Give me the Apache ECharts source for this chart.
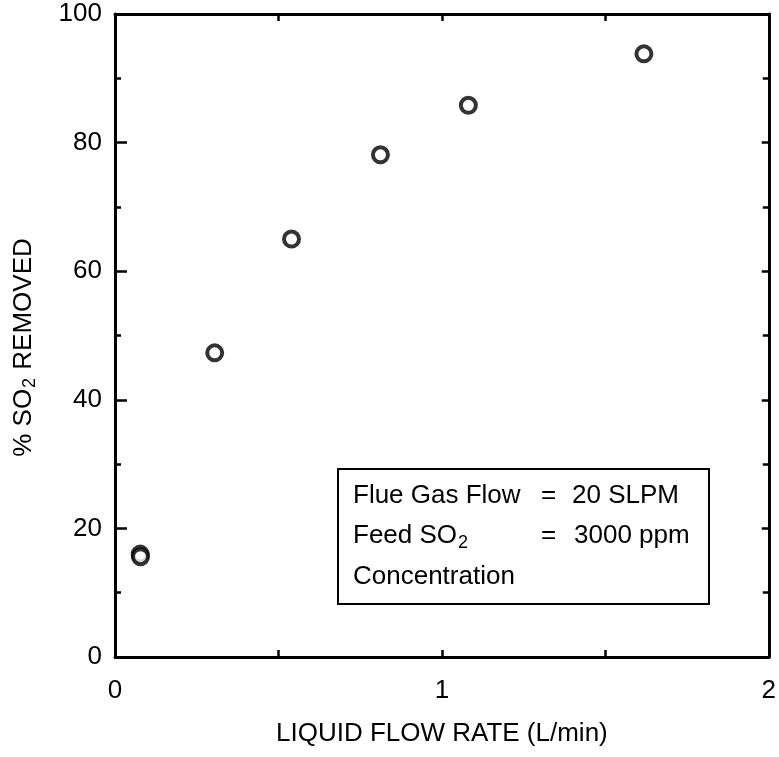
<!DOCTYPE html>
<html>
<head>
<meta charset="utf-8">
<script src="https://cdn.jsdelivr.net/npm/echarts@6/dist/echarts.min.js"></script>
<style>
  html, body { margin: 0; padding: 0; background: #fff; }
  #chart { width: 779px; height: 757px; }
</style>
</head>
<body>
<div id="chart"></div>
<script>
// liquid flow rate (L/min) vs % SO2 removed
var flowRate = [0.077, 0.078, 0.305, 0.54, 0.812, 1.081, 1.618];
var removed = [16.0, 15.6, 47.3, 65.0, 78.1, 85.8, 93.8];
var xTicks = [0, 1, 2];
var yTicks = [0, 20, 40, 60, 80, 100];

var font = 'Liberation Sans, Arial, sans-serif';

var chart = echarts.init(document.getElementById('chart'));

var points = flowRate.map(function (x, i) { return [x, removed[i]]; });

function baseAxis(tickLen) {
  return {
    axisLine: { show: true, onZero: false, lineStyle: { color: '#000', width: 3 } },
    axisTick: { show: true, inside: true, length: tickLen, lineStyle: { color: '#000', width: 2.5 } },
    splitLine: { show: false }
  };
}

var xBottom = Object.assign(baseAxis(7), {
  type: 'value', position: 'bottom', min: 0, max: 2, interval: 0.5,
  axisLabel: {
    color: '#000', fontSize: 26, fontFamily: font, margin: 21,
    formatter: function (v) { return xTicks.indexOf(v) >= 0 ? String(v) : ''; }
  },
  name: 'LIQUID FLOW RATE (L/min)',
  nameLocation: 'middle', nameGap: 64,
  nameTextStyle: { color: '#000', fontSize: 26, fontFamily: font }
});
var xTop = Object.assign(baseAxis(7), {
  type: 'value', position: 'top', min: 0, max: 2, interval: 0.5,
  axisLabel: { show: false }
});

var yLeft = Object.assign(baseAxis(12), {
  type: 'value', position: 'left', min: 0, max: 100, interval: 20,
  minorTick: { show: true, splitNumber: 2, length: 6, lineStyle: { color: '#000', width: 2.5 } },
  axisLabel: {
    color: '#000', fontSize: 26, fontFamily: font, margin: 13,
    formatter: function (v) { return yTicks.indexOf(v) >= 0 ? String(v) : ''; }
  },
  name: '% SO{sub|2} REMOVED',
  nameLocation: 'middle', nameGap: 76,
  nameTextStyle: {
    color: '#000', fontSize: 26, fontFamily: font, padding: [0, 24, 0, 0],
    rich: { sub: { fontSize: 18, fontFamily: font, color: '#000', padding: [12, 1, 0, 1] } }
  }
});
var yRight = Object.assign(baseAxis(7), {
  type: 'value', position: 'right', min: 0, max: 100, interval: 20,
  minorTick: { show: true, splitNumber: 2, length: 6, lineStyle: { color: '#000', width: 2.5 } },
  axisLabel: { show: false }
});

var boxFont = '26px ' + font;

var option = {
  backgroundColor: '#fff',
  animation: false,
  grid: { left: 115, right: 9, top: 14, bottom: 100, containLabel: false },
  xAxis: [xBottom, xTop],
  yAxis: [yLeft, yRight],
  graphic: [
    {
      type: 'rect', left: 337, top: 468,
      shape: { width: 371, height: 135 },
      style: { fill: '#fff', stroke: '#000', lineWidth: 2 }
    },
    {
      type: 'text', left: 353, top: 483,
      style: { text: 'Flue Gas Flow', fill: '#000', font: boxFont }
    },
    {
      type: 'text', left: 541, top: 483,
      style: { text: '=', fill: '#000', font: boxFont }
    },
    {
      type: 'text', left: 572, top: 483,
      style: { text: '20 SLPM', fill: '#000', font: boxFont }
    },
    {
      type: 'text', left: 353, top: 523,
      style: {
        text: 'Feed SO{sub|2}', fill: '#000', font: boxFont,
        rich: { sub: { fontSize: 18, fontFamily: font, fill: '#000', padding: [14, 0, 0, 1] } }
      }
    },
    {
      type: 'text', left: 541, top: 523,
      style: { text: '=', fill: '#000', font: boxFont }
    },
    {
      type: 'text', left: 574, top: 523,
      style: { text: '3000 ppm', fill: '#000', font: boxFont }
    },
    {
      type: 'text', left: 353, top: 564,
      style: { text: 'Concentration', fill: '#000', font: boxFont }
    }
  ],
  series: [
    {
      type: 'scatter',
      data: points,
      symbol: 'circle',
      symbolSize: 15,
      itemStyle: { color: '#fff', borderColor: '#000', borderWidth: 4 },
      z: 5
    }
  ]
};

chart.setOption(option);
</script>
</body>
</html>
